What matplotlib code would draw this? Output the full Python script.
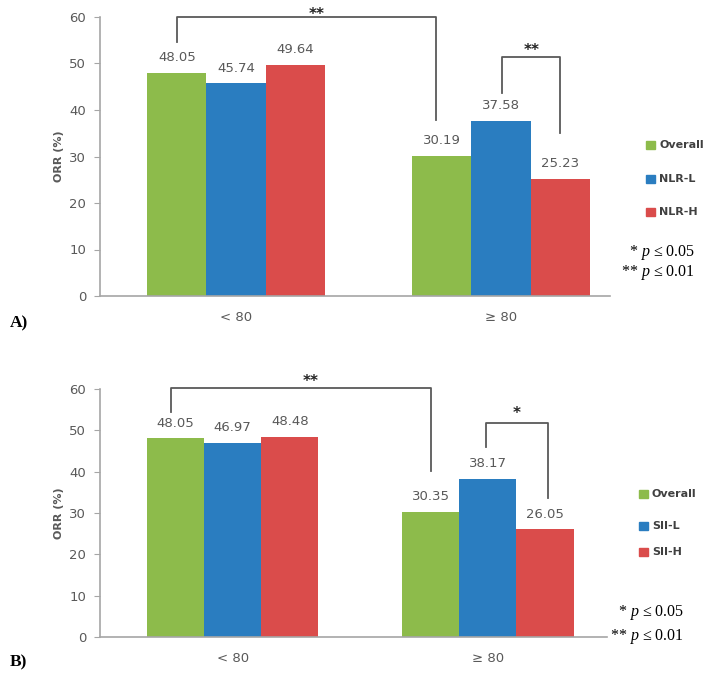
import matplotlib
matplotlib.use("Agg")
import matplotlib.pyplot as plt
from matplotlib.patches import Rectangle

plt.rcParams['font.family'] = ['DejaVu Sans']
plt.rcParams['mathtext.fontset'] = 'custom'
plt.rcParams['mathtext.it'] = 'Liberation Serif:italic'
plt.rcParams['mathtext.rm'] = 'Liberation Serif'

categories = ["< 80", "≥ 80"]
series_a = ["Overall", "NLR-L", "NLR-H"]
values_a = [[48.05, 30.19], [45.74, 37.58], [49.64, 25.23]]
series_b = ["Overall", "SII-L", "SII-H"]
values_b = [[48.05, 30.35], [46.97, 38.17], [48.48, 26.05]]
colors = ["#8DBB4B", "#2A7DC0", "#DA4C4B"]
yticks = [0, 10, 20, 30, 40, 50, 60]

GRAY = "#595959"
W, H = 711, 693
fig = plt.figure(figsize=(7.11, 6.93), dpi=100)


def panel(rect, xlim, width, series, values, br1, br1_dx, star1_y, br2, br2_dx, star2, star2_y,
          leg_x, leg_ys, p_y, p_x, letter, letter_y):
    ax = fig.add_axes(rect)
    for i, (name, vals, c) in enumerate(zip(series, values, colors)):
        xs = [k + (i - 1) * width for k in range(len(categories))]
        ax.bar(xs, vals, width=width, color=c, label=name)
        for x, v in zip(xs, vals):
            ax.annotate(f"{v:.2f}", (x, v), xytext=(0, 11), textcoords="offset points",
                        ha="center", va="center", fontsize=9.5, color=GRAY)
    ax.set_xlim(*xlim)
    ax.set_ylim(0, 60)
    ax.set_yticks(yticks)
    ax.set_xticks(range(len(categories)))
    ax.set_xticklabels(categories)
    ax.tick_params(axis="x", length=0, pad=11, labelsize=9.5, labelcolor=GRAY)
    ax.tick_params(axis="y", direction="out", length=4, color="#A6A6A6", labelsize=9.5,
                   labelcolor=GRAY, pad=6)
    for s in ["top", "right"]:
        ax.spines[s].set_visible(False)
    for s in ["left", "bottom"]:
        ax.spines[s].set_color("#A6A6A6")
        ax.spines[s].set_linewidth(1.2)
    ax.set_ylabel("ORR (%)", fontsize=8, fontweight="bold", color=GRAY, labelpad=4)

    # brackets
    w = width
    (yl, ytop, yr) = br1
    xl, xr = 0 - w + br1_dx[0], 1 - w + br1_dx[1]
    ax.plot([xl, xl, xr, xr], [yl, ytop, ytop, yr], color=GRAY, lw=1.3, clip_on=False)
    ax.text((xl + xr) / 2 + 0.04, star1_y, "**", ha="center", va="baseline", fontsize=11,
            color="#222222", fontweight="bold")
    (yl, ytop, yr) = br2
    xl, xr = 1.0 + br2_dx[0], 1 + w + br2_dx[1]
    ax.plot([xl, xl, xr, xr], [yl, ytop, ytop, yr], color=GRAY, lw=1.3, clip_on=False)
    ax.text((xl + xr) / 2, star2_y, star2, ha="center", va="baseline", fontsize=11,
            color="#222222", fontweight="bold")

    # legend (manual)
    for c, n, ly in zip(colors, series, leg_ys):
        fig.patches.append(Rectangle((leg_x / W, 1 - (ly + 4) / H), 9 / W, 8 / H,
                                     transform=fig.transFigure, color=c))
        fig.text((leg_x + 13) / W, 1 - ly / H, n, ha="left", va="center", fontsize=8,
                 fontweight="bold", color="#404040")

    fig.text(p_x / W, 1 - p_y[0] / H, r"* $\mathit{p}$ ≤ 0.05", ha="right", va="center",
             fontsize=11.5, family="Liberation Serif")
    fig.text(p_x / W, 1 - p_y[1] / H, r"** $\mathit{p}$ ≤ 0.01", ha="right", va="center",
             fontsize=11.5, family="Liberation Serif")
    fig.text(10 / W, 1 - letter_y / H, letter, ha="left", va="center", fontsize=12.5,
             fontweight="bold", family="Liberation Serif")
    return ax


panel([100 / W, 1 - 296 / H, 510 / W, 279 / H], (-0.513, 1.411), 0.223,
      series_a, values_a, (54.6, 60.1, 37.8), (0.0, -0.023), 59.6,
      (43.7, 51.4, 35.1), (0.005, 0.0), "**", 51.9,
      646, (145, 179, 212), (253, 273), 695, "A)", 323)
panel([100 / W, 1 - 637 / H, 507 / W, 248 / H], (-0.52, 1.467), 0.224,
      series_b, values_b, (54.4, 60.2, 40.2), (-0.018, 0.0), 60.8,
      (46.0, 51.8, 33.6), (-0.008, 0.012), "*", 53.0,
      639, (494, 526, 552), (613, 637), 684, "B)", 662)

fig.savefig("out.png", dpi=100)
